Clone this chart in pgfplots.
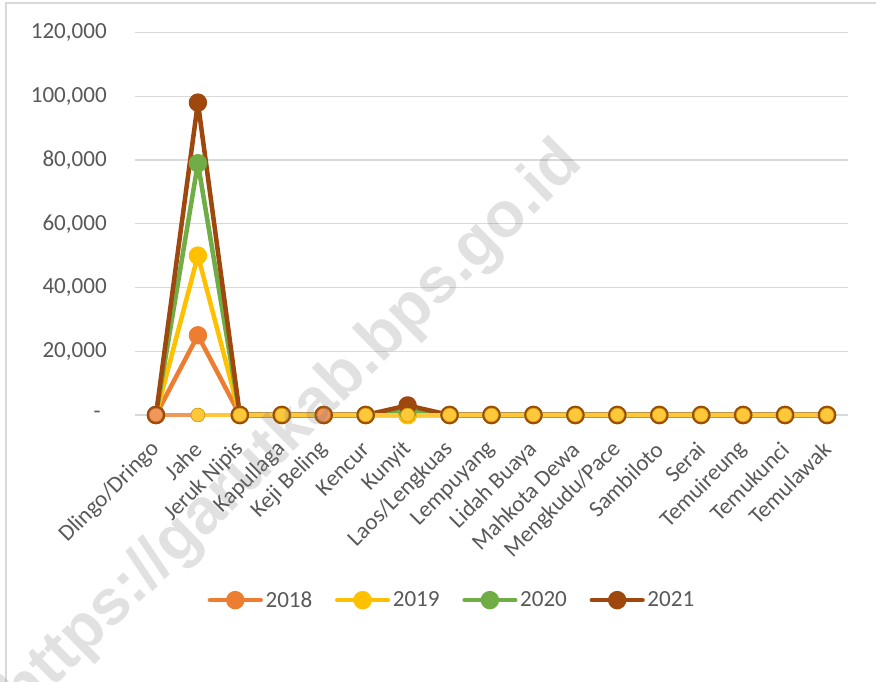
\documentclass[border=0pt]{standalone}
\usepackage{pgfplots}
\pgfplotsset{compat=1.18}
\usepackage{fontspec}
\setmainfont{Carlito}
\newfontfamily\wmfont{Liberation Sans}
\definecolor{c18}{HTML}{ED7D31}
\definecolor{c19}{HTML}{FFC000}
\definecolor{c20}{HTML}{70AD47}
\definecolor{c21}{HTML}{9E480E}
\definecolor{txt}{HTML}{595959}
\definecolor{gridc}{HTML}{D9D9D9}
\definecolor{b18}{HTML}{F0975A}
\definecolor{b19}{HTML}{FFC83A}
\begin{document}
\begin{tikzpicture}
\path[use as bounding box] (0pt,0pt) rectangle (657pt,511.5pt);
\draw[gridc, line width=1.1pt] (4.5pt,-2pt) -- (4.5pt,509.25pt) -- (660pt,509.25pt);
\begin{axis}[
  at={(101.25pt,200.25pt)}, anchor=south west,
  scale only axis, width=534.75pt, height=286.875pt,
  xmin=-0.5, xmax=16.5, ymin=0, ymax=120000,
  axis line style={draw=none},
  major tick length=0pt,
  ymajorgrids=true, xmajorgrids=false,
  grid style={draw=gridc, line width=1.1pt},
  scaled y ticks=false,
  xtick={0,...,16},
  xticklabels={Dlingo/Dringo,Jahe,Jeruk Nipis,Kapullaga,Keji Beling,Kencur,Kunyit,Laos/Lengkuas,Lempuyang,Lidah Buaya,Mahkota Dewa,Mengkudu/Pace,Sambiloto,Serai,Temuireung,Temukunci,Temulawak},
  ytick={0,20000,40000,60000,80000,100000,120000},
  yticklabels={{-\hspace*{4.5pt}},{20,000},{40,000},{60,000},{80,000},{100,000},{120,000}},
  ticklabel style={font=\fontsize{17.3}{20}\selectfont, text=txt},
  xticklabel style={rotate=45, anchor=east, inner sep=0pt},
  xticklabel shift=23pt,
  yticklabel style={anchor=east, inner sep=0pt},
  yticklabel shift=21pt,
  /pgf/number format/assume math mode=true,
  every axis plot/.append style={line width=3.4pt, mark=*, mark size=5.2pt, line join=round, line cap=round},
  legend columns=4,
  legend style={at={(0.445,-0.484)}, anchor=center, draw=none, fill=none,
    font=\fontsize{17.3}{20}\selectfont, text=txt,
    /tikz/every even column/.append style={column sep=15pt}},
  legend image code/.code={\draw[mark repeat=2,mark phase=2,#1] plot coordinates {(0pt,0pt) (19pt,0pt) (38pt,0pt)};},
  clip=false,
]
\addplot[color=c18, mark options={fill=c18}] coordinates {(0,0) (1,25000) (2,0) (3,0) (4,0) (5,0) (6,0) (7,0) (8,0) (9,0) (10,0) (11,0) (12,0) (13,0) (14,0) (15,0) (16,0)};
\addlegendentry{2018}
\addplot[color=c19, mark options={fill=c19}] coordinates {(0,0) (1,50000) (2,0) (3,0) (4,0) (5,0) (6,0) (7,0) (8,0) (9,0) (10,0) (11,0) (12,0) (13,0) (14,0) (15,0) (16,0)};
\addlegendentry{2019}
\addplot[color=c20, mark options={fill=c20}] coordinates {(0,0) (1,79000) (2,0) (3,0) (4,0) (5,0) (6,1200) (7,0) (8,0) (9,0) (10,0) (11,0) (12,0) (13,0) (14,0) (15,0) (16,0)};
\addlegendentry{2020}
\addplot[color=c21, mark options={fill=c21}] coordinates {(0,0) (1,98000) (2,0) (3,0) (4,0) (5,0) (6,3000) (7,0) (8,0) (9,0) (10,0) (11,0) (12,0) (13,0) (14,0) (15,0) (16,0)};
\addlegendentry{2021}
% baseline overlay series (no legend)
\addplot[forget plot, color=b19, line width=3pt, mark options={fill=b19, draw=c19!80!black, line width=0.5pt}] coordinates {(1,0) (2,0) (3,0) (4,0) (5,0) (6,0) (7,0) (8,0) (9,0) (10,0) (11,0) (12,0) (13,0) (14,0) (15,0) (16,0)};
\addplot[forget plot, color=b18, line width=3pt, mark=none] coordinates {(0,0) (1,0)};
\addplot[forget plot, color=b18, only marks, mark options={fill=b18, draw=c18!80!black, line width=0.5pt}] coordinates {(0,0) (4,0)};
\end{axis}
\node[rotate=44.5, text=black!50, opacity=0.24, font=\fontsize{48}{56}\selectfont\wmfont\bfseries] at (219.75pt,189.75pt) {https://garutkab.bps.go.id};
\end{tikzpicture}
\end{document}
